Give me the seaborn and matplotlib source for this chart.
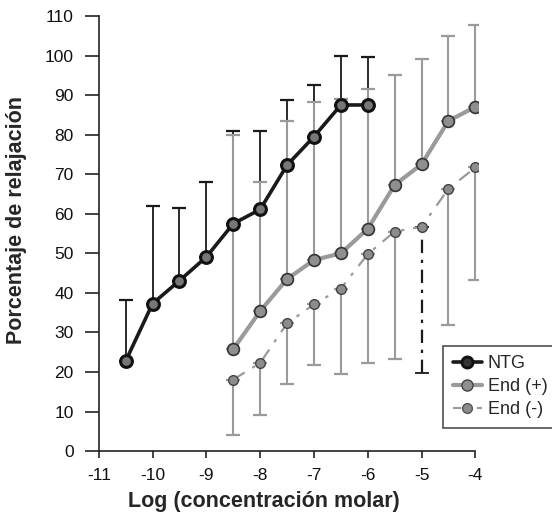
import numpy as np
import pandas as pd
import matplotlib
matplotlib.use("Agg")
import matplotlib.pyplot as plt
from matplotlib.lines import Line2D
import seaborn as sns

# ---- data ----
ntg_x = [-10.5, -10, -9.5, -9, -8.5, -8, -7.5, -7, -6.5, -6]
ntg_y = [22.8, 37.3, 43.1, 49.1, 57.5, 61.1, 72.3, 79.5, 87.5, 87.5]
ntg_top = [38.3, 62.0, 61.5, 68.0, 81.0, 81.0, 88.7, 92.5, 100.0, 99.7]

endp_x = [-8.5, -8, -7.5, -7, -6.5, -6, -5.5, -5, -4.5, -4]
endp_y = [25.8, 35.4, 43.5, 48.3, 50.0, 56.2, 67.3, 72.5, 83.5, 87.0]
endp_top = [80.0, 68.0, 83.5, 88.3, 88.9, 91.6, 95.0, 99.2, 105.0, 107.8]

endm_x = [-8.5, -8, -7.5, -7, -6.5, -6, -5.5, -5, -4.5, -4]
endm_y = [18.1, 22.3, 32.3, 37.1, 41.1, 49.8, 55.5, 56.7, 66.3, 71.7]
endm_bot = [4.1, 9.2, 16.9, 21.7, 19.4, 22.4, 23.4, 19.8, 31.9, 43.2]

series_names = ["NTG", "End (+)", "End (-)"]
x_ticks = [-11, -10, -9, -8, -7, -6, -5, -4]
y_ticks = list(range(0, 111, 10))

sns.set_style("ticks")
plt.rcParams['font.family'] = ['Liberation Sans', 'DejaVu Sans']
plt.rcParams['axes.unicode_minus'] = False

fig = plt.figure(figsize=(5.52, 5.15), dpi=100)
ax = fig.add_axes([0.179, 0.124, 0.687, 0.845])

c_ntg = "#1a1a1a"
c_endp = "#9a9a9a"
c_endm = "#9a9a9a"

# error bars
ntg_y_a = np.array(ntg_y)
ax.errorbar(ntg_x, ntg_y, yerr=[np.zeros(len(ntg_y)), np.array(ntg_top) - ntg_y_a],
            fmt='none', ecolor=c_ntg, elinewidth=1.3, capsize=5, capthick=1.6, zorder=2)

endp_y_a = np.array(endp_y)
ax.errorbar(endp_x, endp_y, yerr=[np.zeros(len(endp_y)), np.array(endp_top) - endp_y_a],
            fmt='none', ecolor=c_endp, elinewidth=1.5, capsize=5, capthick=1.6, zorder=3)

endm_y_a = np.array(endm_y)
mask = np.array(endm_x) != -5
ex = np.array(endm_x)
ax.errorbar(ex[mask], endm_y_a[mask], yerr=[(endm_y_a - np.array(endm_bot))[mask], np.zeros(mask.sum())],
            fmt='none', ecolor=c_endm, elinewidth=1.5, capsize=5, capthick=1.6, zorder=3)
inv = ~mask
eb = ax.errorbar(ex[inv], endm_y_a[inv], yerr=[(endm_y_a - np.array(endm_bot))[inv], np.zeros(inv.sum())],
                 fmt='none', ecolor="#1a1a1a", elinewidth=1.6, capsize=5, capthick=1.3, zorder=3)
eb[2][0].set_linestyle((0, (6, 3, 1.5, 3)))

# lines via seaborn
df = pd.concat([
    pd.DataFrame({"x": ntg_x, "y": ntg_y, "serie": series_names[0]}),
    pd.DataFrame({"x": endp_x, "y": endp_y, "serie": series_names[1]}),
    pd.DataFrame({"x": endm_x, "y": endm_y, "serie": series_names[2]}),
])
sns.lineplot(data=df[df.serie == "End (-)"], x="x", y="y", color=c_endm, lw=1.6,
             linestyle=(0, (6, 4, 1.5, 4)), marker='o', markersize=7,
             markerfacecolor="#8c8c8c", markeredgecolor="#444444", markeredgewidth=1.0,
             ax=ax, legend=False, zorder=4)
sns.lineplot(data=df[df.serie == "End (+)"], x="x", y="y", color=c_endp, lw=3,
             marker='o', markersize=8.5, markerfacecolor="#8f8f8f",
             markeredgecolor="#333333", markeredgewidth=1.2,
             ax=ax, legend=False, zorder=5)
sns.lineplot(data=df[df.serie == "NTG"], x="x", y="y", color=c_ntg, lw=2.6,
             marker='o', markersize=8.5, markerfacecolor="#777777",
             markeredgecolor="#111111", markeredgewidth=2.2,
             ax=ax, legend=False, zorder=6)

ax.set_xlim(-11, -3.95)
ax.set_ylim(0, 110)
ax.set_xticks(x_ticks)
ax.set_xticklabels([str(t) for t in x_ticks])
ax.set_yticks(y_ticks)
ax.set_yticklabels([str(t) for t in y_ticks])
ax.spines['top'].set_visible(False)
ax.spines['right'].set_visible(False)
ax.spines['bottom'].set_bounds(-11, -4)
for s in ['left', 'bottom']:
    ax.spines[s].set_color('#222222')
    ax.spines[s].set_linewidth(1.2)
ax.tick_params(axis='both', direction='out', width=1.2, colors='#222222',
               labelsize=12.5, labelcolor='#111111')
ax.tick_params(axis='x', length=5, pad=7)
ax.tick_params(axis='y', length=10, pad=8)
ax.set_xlabel("Log (concentración molar)", fontsize=15.5, fontweight='bold', va='top')
ax.set_ylabel("Porcentaje de relajación", fontsize=15.5, fontweight='bold')
ax.xaxis.set_label_coords(0.435, -0.092)
ax.yaxis.set_label_coords(-0.19, 0.532)

handles = [
    Line2D([0], [0], color=c_ntg, lw=2.6, marker='o', markersize=8,
           markerfacecolor="#333333", markeredgecolor="#111111", markeredgewidth=2),
    Line2D([0], [0], color=c_endp, lw=3, marker='o', markersize=8,
           markerfacecolor="#8f8f8f", markeredgecolor="#444444"),
    Line2D([0], [0], color=c_endm, lw=1.5, linestyle=(0, (4, 3, 1.5, 3)), marker='o',
           markersize=7, markerfacecolor="#8c8c8c", markeredgecolor="#555555"),
]
leg = fig.legend(handles, series_names, loc='lower left', bbox_to_anchor=(0.802, 0.169),
                 frameon=True, fancybox=False, edgecolor='#222222', fontsize=13,
                 handlelength=1.6, handletextpad=0.35, borderpad=0.55, labelspacing=0.32,
                 borderaxespad=0)
leg.get_frame().set_linewidth(1.2)

fig.savefig("out.png", dpi=100)
